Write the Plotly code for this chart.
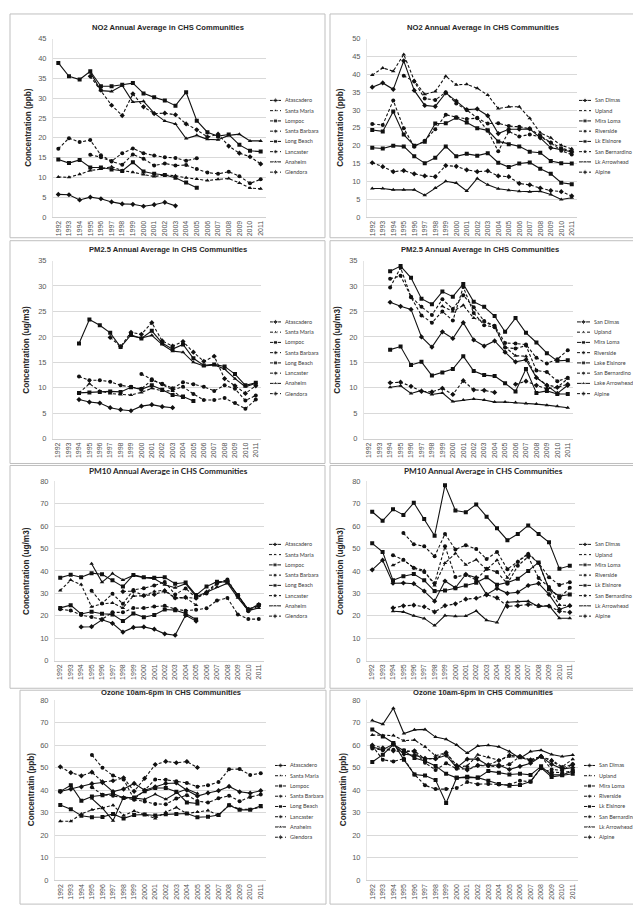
import plotly.graph_objects as go

W, H = 641, 911
YEARS = list(range(1992, 2012))
N = None

# ---------------- NO2 (ppb) - left communities ----------------
no2_atascadero = [5.7, 5.6, 4.3, 5.0, 4.6, 3.8, 3.3, 3.2, 2.7, 3.1, 3.7, 2.8] + [N] * 8
no2_santa_maria = [10.1, 10.0, 10.8, 11.7, 12.1, 12.7, 11.7, 11.3, 10.7, 10.2, 10.6, 10.4, 9.9, 9.6, 9.2, 9.5, 9.7, 8.6, 7.3, 7.1]
no2_lompoc = [14.5, 13.6, 14.4, 12.5, 12.5, 12.0, 11.6, 13.8, 11.5, 10.9, 10.6, 9.9, 8.7, 7.4] + [N] * 6
no2_santa_barbara = [N] * 3 + [15.7, 15.1, 14.0, 13.2, 15.8, 14.7, 13.0, 13.5, 13.0, 13.1, 12.1, 11.2, 10.9, 11.4, 10.3, 8.5, 9.5]
no2_long_beach = [38.9, 35.5, 34.7, 36.8, 33.0, 33.0, 33.4, 33.8, 31.2, 30.2, 29.4, 28.1, 31.5, 24.3, 21.4, 20.4, 20.8, 18.2, 16.7, 16.5]
no2_lancaster = [17.2, 19.9, 18.9, 19.4, 15.6, 14.1, 16.1, 17.3, 16.1, 15.5, 15.1, 14.9, 14.2, 14.8] + [N] * 6
no2_anaheim = [N] * 3 + [36.5, 31.9, 31.7, 33.2, 29.0, 29.2, 26.2, 24.2, 23.5, 19.8, 20.6, 19.6, 19.5, 20.6, 20.9, 19.2, 19.2]
no2_glendora = [N] * 3 + [35.5, 32.0, 28.2, 25.6, 31.1, 27.8, 26.1, 26.2, 25.8, 23.5, 22.0, 20.2, 20.9, 17.9, 16.1, 15.2, 13.4]

# ---------------- NO2 (ppb) - right communities ----------------
no2_san_dimas = [36.4, 37.6, 35.8, 43.8, 35.5, 31.3, 31.0, 34.8, 32.5, 30.1, 30.3, 28.4, 23.4, 24.6, 24.6, 24.7, 22.2, 19.4, 18.9, 18.2]
no2_upland = [39.8, 41.8, 40.9, 45.6, 38.3, 34.4, 35.2, 39.5, 37.1, 37.2, 36.1, 34.2, 30.4, 30.9, 30.9, 27.7, 23.6, 22.2, 20.1, 19.1]
no2_mira_loma = [24.4, 24.0, 29.6, 23.1, 20.0, 21.1, 26.2, 26.3, 27.8, 26.5, 24.9, 24.3, 21.2, 20.4, 19.8, 18.3, 18.0, 15.7, 15.1, 15.0]
no2_riverside = [26.1, 25.8, 32.7, 24.9, 19.7, 21.4, 24.6, 28.7, 28.0, 27.5, 27.7, 26.2, 26.3, 25.5, 25.3, 24.8, 22.8, 20.9, 19.3, 18.5]
no2_lk_elsinore = [19.4, 19.2, 20.0, 19.8, 17.0, 15.1, 16.6, 19.8, 17.0, 17.7, 17.2, 17.9, 15.2, 14.0, 15.0, 15.3, 13.5, 12.1, 9.6, 9.2]
no2_san_bernardino = [N] * 3 + [39.6, 38.0, 33.2, 32.8, 35.0, 31.8, 30.0, 27.8, 24.2, 18.4, 24.0, 22.6, 23.1, 22.5, 20.8, 18.6, 17.5]
no2_lk_arrowhead = [8.0, 8.0, 7.6, 7.6, 7.6, 6.1, 8.1, 10.0, 9.5, 7.3, 10.8, 9.0, 7.9, 7.5, 7.2, 7.1, 7.2, 6.3, 4.9, 5.4]
no2_alpine = [15.2, 14.1, 12.7, 13.0, 12.1, 11.5, 11.3, 14.4, 14.2, 13.2, 12.7, 12.9, 11.5, 11.3, 9.4, 9.0, 8.1, 7.4, 7.1, 5.9]

# ---------------- PM2.5 (ug/m3) - left ----------------
pm25_atascadero = [N] * 2 + [7.7, 7.2, 7.0, 6.1, 5.7, 5.5, 6.4, 6.7, 6.3, 6.1] + [N] * 8
pm25_santa_maria = [N] * 2 + [9.0, 10.8, 9.4, 8.9, 8.7, 8.6, 9.1, 9.9, 9.4, 9.4, 8.0] + [N] * 7
pm25_lompoc = [N] * 2 + [9.0, 9.1, 9.2, 9.3, 9.2, 10.1, 9.7, 10.5, 9.6, 8.6, 8.3, 7.4] + [N] * 6
pm25_santa_barbara = [N] * 2 + [12.2, 11.5, 11.5, 11.2, 10.5, 10.2, 9.8, 11.5, 10.8, 9.9, 11.1, 10.7, 10.2, 9.4, 10.5, 9.8, 7.5, 8.5]
pm25_long_beach = [N] * 2 + [18.7, 23.4, 22.3, 20.8, 18.0, 20.4, 19.7, 21.2, 18.8, 17.6, 18.5, 15.8, 14.4, 14.6, 14.2, 12.7, 10.5, 11.0]
pm25_lancaster = [N] * 8 + [12.7, 11.7, 10.7, 9.6, 10.2, 8.8, 7.6, 7.6, 8.0, 7.0, 5.9, 7.7]
pm25_anaheim = [N] * 7 + [20.2, 19.8, 20.3, 18.5, 17.2, 17.0, 15.0, 14.3, 14.5, 13.7, 11.8, 10.2, 10.9]
pm25_glendora = [N] * 5 + [19.9, 18.1, 20.9, 20.5, 22.8, 19.2, 18.2, 19.1, 17.0, 15.2, 16.2, 11.8, 10.4, 8.9, 10.4]

# ---------------- PM2.5 (ug/m3) - right ----------------
pm25_san_dimas = [N] * 2 + [26.8, 26.0, 25.4, 20.0, 18.0, 21.0, 19.7, 22.8, 19.4, 18.2, 19.2, 17.0, 15.1, 15.5, 12.0, 10.5, 8.9, 10.5]
pm25_upland = [N] * 7 + [26.0, 25.0, 26.2, 23.7, 23.0, 22.0, 18.0, 16.3, 16.2, 12.0, 10.6, 10.1, 11.8]
pm25_mira_loma = [N] * 2 + [32.9, 33.9, 31.6, 27.5, 26.4, 28.9, 27.9, 30.4, 26.9, 25.9, 24.1, 21.0, 23.7, 20.8, 18.9, 16.8, 15.3, 15.4]
pm25_riverside = [N] * 2 + [31.4, 32.0, 27.9, 25.9, 24.3, 27.4, 25.5, 28.2, 25.8, 23.1, 22.2, 18.8, 18.7, 18.5, 15.9, 14.8, 15.6, 17.4]
pm25_lake_elsinore = [N] * 2 + [17.5, 18.1, 14.5, 15.1, 12.4, 13.0, 13.7, 16.2, 13.3, 12.5, 12.3, 10.9, 9.3, 13.7, 9.0, 9.4, 8.8, 8.8]
pm25_san_bernardino = [N] * 2 + [29.7, 33.6, 27.8, 24.2, 22.8, 25.0, 23.2, 29.8, 24.7, 22.3, 21.9, 17.9, 17.7, 18.3, 13.4, 13.1, 11.3, 12.0]
pm25_lake_arrowhead = [N] * 2 + [10.1, 10.4, 8.9, 9.5, 8.7, 9.0, 7.3, 7.6, 7.8, 7.6, 7.2, 7.2, 7.1, 6.9, 6.8, 6.6, 6.4, 6.1]
pm25_alpine = [N] * 2 + [11.0, 11.1, 10.3, 9.3, 9.2, 9.9, 8.7, 11.4, 9.6, 9.5, 9.1, N, 10.7, 11.3, 10.5, 9.8, 10.1, 10.7]

# ---------------- PM10 (ug/m3) - left ----------------
pm10_atascadero = [N] * 2 + [15.0, 15.1, 18.2, 16.6, 12.7, 14.8, 15.0, 14.0, 11.9, 11.3, 20.2, 17.6] + [N] * 6
pm10_santa_maria = [31.3, 35.9, 33.9, 24.0, 25.3, 25.7, 23.5, 28.8, 28.9, 30.8, 31.5, 27.8, 28.0, 24.8] + [N] * 6
pm10_lompoc = [23.5, 24.7, 20.8, 21.8, 20.9, 20.6, 17.6, 21.0, 19.3, 20.3, 22.8, 22.5, 21.0, 18.3] + [N] * 6
pm10_santa_barbara = [22.9, 22.3, 20.3, 19.4, 18.4, 21.5, 21.5, 23.4, 23.4, 24.1, 24.4, 23.0, 22.2, 22.7, 23.3, 26.8, 27.9, 20.6, 18.5, 18.5]
pm10_long_beach = [37.0, 38.3, 37.2, 39.0, 38.5, 35.8, 33.0, 38.2, 37.2, 37.0, 37.2, 34.3, 34.8, 29.2, 33.0, 35.2, 35.0, 29.2, 22.8, 24.8]
pm10_lancaster = [N] * 3 + [31.2, 25.5, 29.8, 25.3, 31.5, 32.3, 33.5, 35.1, 29.5, 32.2, 28.0, 29.9, 34.3, 36.2, 28.7, 22.0, 24.5]
pm10_anaheim = [N] * 3 + [43.2, 35.0, 38.8, 36.0, 38.0, 37.0, 36.5, 33.8, 32.5, 34.3, 28.5, 30.5, 32.8, 34.5, 28.0, 22.3, 23.5]
pm10_glendora = [N] * 6 + [30.8, 31.0, 29.0, 29.5, 31.0, 28.0, 28.2, 27.8, 30.5, 34.8, 35.5, 29.0, 22.8, 25.0]

# ---------------- PM10 (ug/m3) - right ----------------
pm10_san_dimas = [40.5, 44.8, 34.5, 34.6, 34.3, 31.0, 26.5, 35.5, 32.5, 38.5, 37.0, 29.5, 32.2, 30.0, 30.5, 33.5, 34.4, 29.5, 22.8, 24.5]
pm10_upland = [N] * 2 + [42.5, 44.8, 41.5, 40.2, 33.5, 43.5, 47.8, 42.8, 45.0, 40.6, 44.8, 37.0, 44.3, 47.8, 43.5, 32.0, 24.8, 24.5]
pm10_mira_loma = [66.4, 62.4, 67.5, 65.0, 70.4, 63.2, 55.7, 78.3, 67.0, 66.2, 69.7, 64.2, 59.0, 53.7, 56.5, 60.3, 56.5, 52.8, 41.0, 42.3]
pm10_riverside = [N] * 3 + [56.9, 51.9, 51.0, 46.5, 56.5, 49.6, 51.5, 49.8, 45.3, 48.5, 40.8, 44.0, 47.5, 43.5, 37.2, 33.7, 35.0]
pm10_lk_elsinore = [52.3, 48.5, 35.8, 37.6, 38.6, 35.8, 31.0, 31.3, 32.3, 33.5, 34.7, 37.2, 33.8, 34.8, 36.5, 40.0, 43.8, 31.8, 28.7, 29.5]
pm10_san_bernardino = [N] * 2 + [47.0, 45.0, 41.3, 39.5, 34.5, 51.0, 37.3, 38.2, 36.0, 41.0, 39.5, 34.3, 42.3, 46.3, 36.8, 32.8, 27.8, 32.5]
pm10_lk_arrowhead = [N] * 2 + [22.0, 21.7, 20.0, 18.8, 15.6, 20.1, 19.8, 19.9, 22.1, 18.0, 17.0, 26.0, 26.3, 26.5, 24.0, 24.5, 18.9, 18.9]
pm10_alpine = [N] * 2 + [23.5, 24.4, 24.7, 24.0, 21.7, 24.5, 25.3, 27.4, 27.8, 29.3, 28.0, 24.2, 24.5, 25.0, 24.5, 24.3, 22.0, 21.5]

# ---------------- Ozone 10am-6pm (ppb) - left ----------------
o3_atascadero = [39.4, 40.5, 41.5, 42.9, 43.4, 39.4, 40.5, 43.0, 40.0, 41.5, 43.0, 43.2, 40.0, 37.4, 38.8, 39.8, 41.7, 39.3, 38.7, 39.8]
o3_santa_maria = [26.2, 26.2, 29.5, 31.3, 32.2, 33.3, 28.8, 30.8, 29.2, 27.5, 30.2, 32.3, 29.7, 30.3, 31.0, 28.8, 33.5, 31.6, 31.5, 32.4]
o3_lompoc = [39.5, 42.2, 35.3, 37.2, 37.8, 38.5, 36.6, 36.8, 39.5, 41.0, 41.0, 39.3, 34.6, 34.1] + [N] * 6
o3_santa_barbara = [N] * 3 + [41.3, 38.0, 37.5, 36.5, 35.8, 35.0, 33.9, 33.8, 36.3, 37.8, 35.2, 34.5, 36.4, 37.6, 35.1, 37.0, 38.1]
o3_long_beach = [33.4, 31.6, 28.7, 28.0, 28.1, 29.5, 27.5, 29.0, 29.2, 28.8, 29.3, 29.4, 29.7, 28.0, 28.2, 29.0, 33.3, 31.3, 31.3, 33.0]
o3_lancaster = [N] * 3 + [55.6, 50.0, 46.5, 44.8, 36.0, 40.0, 44.8, 44.6, 44.0, 43.2, 41.6, 42.2, 43.6, 49.3, 49.4, 46.8, 47.5]
o3_anaheim = [N] * 3 + [36.3, 32.0, 26.5, 37.0, 36.5, 36.0, 38.2, 36.0, 38.8, 40.5, 38.5] + [N] * 6
o3_glendora = [50.4, 47.8, 46.4, 48.0, 43.7, 44.2, 45.5, 39.5, 45.3, 51.4, 52.8, 52.2, 52.7, 50.1] + [N] * 6

# ---------------- Ozone 10am-6pm (ppb) - right ----------------
o3_san_dimas = [59.2, 58.0, 60.5, 56.0, 55.5, 54.2, 54.0, 55.5, 50.0, 53.8, 53.8, 51.0, 51.2, 49.2, 50.6, 52.0, 55.0, 51.5, 49.5, 50.0]
o3_upland = [64.5, 64.3, 64.3, 62.0, 62.3, 59.3, 55.3, 56.7, 50.3, 50.8, 55.8, 54.6, 53.3, 55.0, 54.5, 53.5, 54.8, 53.5, 50.4, 53.8]
o3_mira_loma = [52.5, 55.8, 60.3, 57.5, 54.3, 53.0, 50.8, 47.3, 45.5, 46.0, 45.5, 48.5, 47.8, 47.0, 47.3, 46.8, 50.6, 46.8, 46.8, 48.5]
o3_riverside = [58.5, 57.8, 58.0, 57.8, 57.0, 52.2, 49.0, 52.0, 49.5, 49.5, 51.0, 50.8, 50.5, 51.5, 55.0, 52.8, 55.0, 49.2, 48.8, 51.5]
o3_lk_elsinore = [67.0, 63.8, 61.0, 53.5, 47.0, 46.5, 44.5, 34.3, 45.5, 45.7, 45.6, 44.2, 42.8, 42.0, 42.3, 43.9, 50.0, 45.9, 46.6, 47.3]
o3_san_bernardino = [59.8, 53.5, 52.8, 54.0, 47.0, 42.2, 40.5, 40.5, 41.0, 43.6, 42.7, 42.8, 42.5, 42.4, 44.2, 43.8, 49.8, 48.0, 47.8, 48.5]
o3_lk_arrowhead = [71.0, 69.3, 76.4, 65.2, 66.8, 67.0, 63.6, 62.6, 60.1, 56.5, 59.6, 60.0, 59.3, 57.2, 54.2, 57.2, 57.8, 55.9, 55.0, 55.6]
o3_alpine = [60.0, 58.8, 57.5, 57.0, 57.5, 53.8, 54.0, 56.7, 51.0, 49.0, 51.0, 51.3, 53.2, 55.5, 55.0, 53.5, 55.0, 53.0, 50.0, 51.5]

LEFT_SITES = ["Atascadero", "Santa Maria", "Lompoc", "Santa Barbara", "Long Beach", "Lancaster", "Anaheim", "Glendora"]
RIGHT_SITES = ["San Dimas", "Upland", "Mira Loma", "Riverside", "Lk Elsinore", "San Bernardino", "Lk Arrowhead", "Alpine"]
RIGHT_SITES_PM25 = ["San Dimas", "Upland", "Mira Loma", "Riverside", "Lake Elsinore", "San Bernardino", "Lake Arrowhead", "Alpine"]

SYMBOLS = ["diamond", "triangle-up", "square", "circle", "square", "circle", "triangle-up", "diamond"]

ARIAL = "Liberation Sans, Arial, sans-serif"
CALIB = "Lato, Liberation Sans, sans-serif"

PANELS = [
    dict(title="NO2 Annual Average in CHS Communities", ytitle="Concentration (ppb)", ymax=45, dtick=5,
         series=[no2_atascadero, no2_santa_maria, no2_lompoc, no2_santa_barbara, no2_long_beach, no2_lancaster, no2_anaheim, no2_glendora],
         names=LEFT_SITES, box=(45, 258, 27, 207), tpos=(160, 16), tfont=ARIAL, tsize=7.6, ytx=21,
         leg=(262, 273, 275, 89.3), border=(2, 2, 317, 228)),
    dict(title="NO2 Annual Average in CHS Communities", ytitle="Concentration (ppb)", ymax=50, dtick=5,
         series=[no2_san_dimas, no2_upland, no2_mira_loma, no2_riverside, no2_lk_elsinore, no2_san_bernardino, no2_lk_arrowhead, no2_alpine],
         names=RIGHT_SITES, box=(359, 569, 27, 207), tpos=(475, 16), tfont=ARIAL, tsize=7.6, ytx=333,
         leg=(571, 583, 585, 89.3), border=(322, 2, 628, 228)),
    dict(title="PM2.5 Annual Average in CHS Communities", ytitle="Concentration (ug/m3)", ymax=35, dtick=5,
         series=[pm25_atascadero, pm25_santa_maria, pm25_lompoc, pm25_santa_barbara, pm25_long_beach, pm25_lancaster, pm25_anaheim, pm25_glendora],
         names=LEFT_SITES, box=(45, 253, 251, 431), tpos=(160, 240), tfont=ARIAL, tsize=7.6, ytx=19,
         leg=(262, 273, 275, 313), border=(2, 231, 317, 456)),
    dict(title="PM2.5 Annual Average in CHS Communities", ytitle="Concentration (ug/m3)", ymax=35, dtick=5,
         series=[pm25_san_dimas, pm25_upland, pm25_mira_loma, pm25_riverside, pm25_lake_elsinore, pm25_san_bernardino, pm25_lake_arrowhead, pm25_alpine],
         names=RIGHT_SITES_PM25, box=(356, 565, 251, 431), tpos=(472, 240), tfont=ARIAL, tsize=7.6, ytx=330,
         leg=(569, 582, 584, 313), border=(322, 231, 627, 456)),
    dict(title="PM10 Annual Average in CHS Communities", ytitle="Concentration (ug/m3)", ymax=80, dtick=10,
         series=[pm10_atascadero, pm10_santa_maria, pm10_lompoc, pm10_santa_barbara, pm10_long_beach, pm10_lancaster, pm10_anaheim, pm10_glendora],
         names=LEFT_SITES, box=(47, 256, 474, 655), tpos=(160, 464), tfont=CALIB, tsize=8.2, ytx=19,
         leg=(261, 273, 275, 537.7), border=(2, 458, 317, 683)),
    dict(title="PM10 Annual Average in CHS Communities", ytitle="Concentration (ug/m3)", ymax=80, dtick=10,
         series=[pm10_san_dimas, pm10_upland, pm10_mira_loma, pm10_riverside, pm10_lk_elsinore, pm10_san_bernardino, pm10_lk_arrowhead, pm10_alpine],
         names=RIGHT_SITES, box=(359, 567, 474, 655), tpos=(475, 464), tfont=CALIB, tsize=8.2, ytx=333,
         leg=(571, 583, 585, 537.7), border=(322, 458, 632, 683)),
    dict(title="Ozone 10am-6pm in CHS Communities", ytitle="Concentratin (ppb)", ymax=80, dtick=10,
         series=[o3_atascadero, o3_santa_maria, o3_lompoc, o3_santa_barbara, o3_long_beach, o3_lancaster, o3_anaheim, o3_glendora],
         names=LEFT_SITES, box=(47, 258, 695, 877), tpos=(163, 687), tfont=ARIAL, tsize=7.6, ytx=23,
         leg=(267, 278, 280, 761), border=(12, 685, 318, 901)),
    dict(title="Ozone 10am-6pm in CHS Communities", ytitle="Concentratin (ppb)", ymax=80, dtick=10,
         series=[o3_san_dimas, o3_upland, o3_mira_loma, o3_riverside, o3_lk_elsinore, o3_san_bernardino, o3_lk_arrowhead, o3_alpine],
         names=RIGHT_SITES, box=(359, 570, 695, 877), tpos=(475, 687), tfont=ARIAL, tsize=7.6, ytx=335,
         leg=(576, 587, 589, 761), border=(322, 685, 632, 901)),
]

LEG_STEP = 10.35
GRID = "#d9d9d9"
TICKC = "#595959"

fig = go.Figure()
layout = dict(width=W, height=H, margin=dict(l=0, r=0, t=0, b=0),
              paper_bgcolor="white", plot_bgcolor="rgba(0,0,0,0)", showlegend=False)
shapes, annotations = [], []

LX = "x9"
LY = "y9"

for i, p in enumerate(PANELS, start=1):
    xs = "" if i == 1 else str(i)
    x0, x1, yt, yb = p["box"]
    layout["xaxis" + xs] = dict(
        domain=[x0 / W, x1 / W], range=[1991.5, 2011.5], anchor="y" + xs,
        tickmode="array", tickvals=YEARS, ticktext=[str(y) for y in YEARS], tickangle=-90,
        tickfont=dict(family=ARIAL, size=7, color="#505050"), showgrid=False,
        showline=True, linecolor="#d0d0d0", linewidth=1, ticks="", zeroline=False, fixedrange=True)
    layout["yaxis" + xs] = dict(
        domain=[1 - yb / H, 1 - yt / H], range=[0, p["ymax"]], dtick=p["dtick"], anchor="x" + xs,
        tickfont=dict(family=ARIAL, size=7.5, color=TICKC), showgrid=True, gridcolor=GRID, gridwidth=1,
        showline=True, linecolor="#e4e4e4", ticks="", zeroline=False, ticklabelstandoff=4, fixedrange=True)

    lx0, lx1, tx, ly0 = p["leg"]
    for k, (vals, name) in enumerate(zip(p["series"], p["names"])):
        dash = "solid" if k % 2 == 0 else "3px,2px"
        fig.add_trace(go.Scatter(
            x=YEARS, y=vals, name=name, mode="lines+markers", connectgaps=False,
            xaxis="x" + xs, yaxis="y" + xs,
            line=dict(color="#111111", width=1.1, dash=dash),
            marker=dict(symbol=SYMBOLS[k], size=4, color="#111111")))
        # legend glyph (drawn on a pixel overlay axis)
        yy = ly0 + k * LEG_STEP
        fig.add_trace(go.Scatter(
            x=[lx0, (lx0 + lx1) / 2, lx1], y=[yy, yy, yy], mode="lines+markers",
            xaxis=LX, yaxis=LY, hoverinfo="skip",
            line=dict(color="#111111", width=1, dash=dash),
            marker=dict(symbol=SYMBOLS[k], size=[0, 4, 0], color="#111111")))
        annotations.append(dict(x=tx, y=yy, xref=LX, yref=LY, text=name, showarrow=False,
                                xanchor="left", yanchor="middle",
                                font=dict(family=CALIB, size=5.5, color="#404040")))

    tcx, tcy = p["tpos"]
    annotations.append(dict(x=tcx / W, y=1 - tcy / H, xref="paper", yref="paper", text="<b>%s</b>" % p["title"],
                            showarrow=False, xanchor="center", yanchor="middle",
                            font=dict(family=p["tfont"], size=p["tsize"], color="#262626")))
    annotations.append(dict(x=p["ytx"] / W, y=1 - (yt + yb) / 2 / H, xref="paper", yref="paper",
                            text="<b>%s</b>" % p["ytitle"], textangle=-90, showarrow=False,
                            xanchor="center", yanchor="middle",
                            font=dict(family=ARIAL, size=8.2, color="#262626")))
    bx0, by0, bx1, by1 = p["border"]
    shapes.append(dict(type="rect", xref="paper", yref="paper", x0=bx0 / W, x1=bx1 / W,
                       y0=1 - by1 / H, y1=1 - by0 / H, line=dict(color="#bfbfbf", width=1),
                       fillcolor="rgba(0,0,0,0)", layer="below"))

layout["xaxis9"] = dict(domain=[0, 1], range=[0, W], visible=False, anchor="y9", fixedrange=True)
layout["yaxis9"] = dict(domain=[0, 1], range=[H, 0], visible=False, anchor="x9", fixedrange=True)
layout["shapes"] = shapes
layout["annotations"] = annotations
fig.update_layout(**layout)

fig.write_html("out.html")
